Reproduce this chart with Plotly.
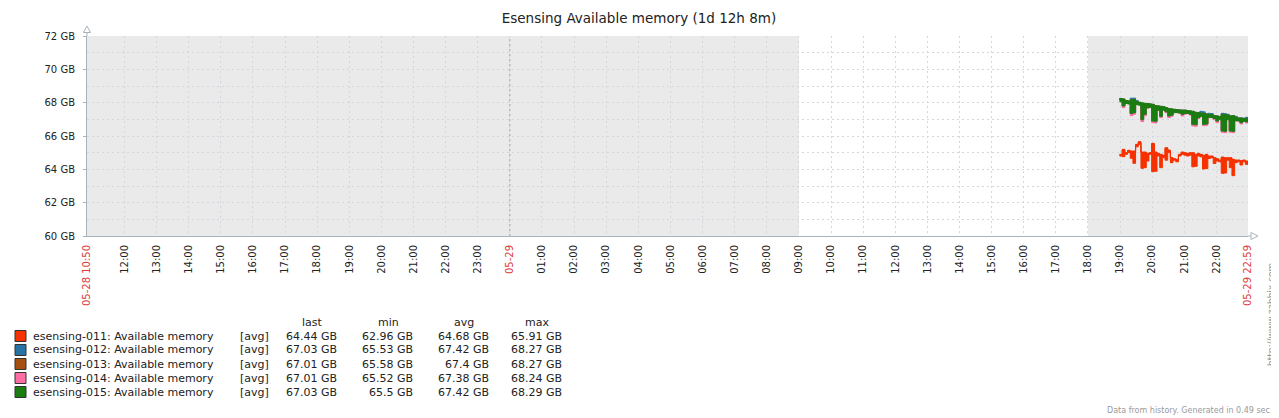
import plotly.graph_objects as go
import pandas as pd

# ---------------- data ----------------
t_start = "2017-05-28 10:50"
t_end = "2017-05-29 22:59"
times = pd.date_range("2017-05-29 18:59", "2017-05-29 22:59", freq="5min")

s011_avg = [64.86, 65.16, 64.96, 65.10, 65.06, 65.06, 65.46, 65.62, 65.00, 65.00, 64.92, 64.96, 65.52, 65.00, 64.92, 64.86, 64.80, 65.26, 65.12, 64.66, 64.60, 64.56, 64.86, 65.00, 64.96, 64.92, 64.96, 64.96, 64.86, 64.92, 64.86, 64.80, 64.86, 64.76, 64.76, 64.66, 64.60, 64.52, 64.70, 64.66, 64.66, 64.66, 64.56, 64.52, 64.52, 64.48, 64.52, 64.46, 64.44]
s011_max = [64.90, 65.20, 65.00, 65.14, 65.10, 65.10, 65.50, 65.66, 65.04, 65.04, 64.96, 65.00, 65.56, 65.04, 64.96, 64.90, 64.84, 65.30, 65.16, 64.70, 64.64, 64.60, 64.90, 65.04, 65.00, 64.96, 65.00, 65.00, 64.90, 64.96, 64.90, 64.84, 64.90, 64.80, 64.80, 64.70, 64.64, 64.56, 64.74, 64.70, 64.70, 64.70, 64.60, 64.56, 64.56, 64.52, 64.56, 64.50, 64.48]
s011_min = [64.80, 64.76, 64.90, 65.00, 64.66, 64.36, 65.35, 65.50, 64.06, 64.10, 64.50, 64.90, 63.86, 63.88, 64.80, 64.10, 64.70, 64.55, 65.00, 64.40, 64.55, 64.45, 64.80, 64.90, 64.85, 64.80, 64.85, 64.15, 64.18, 64.80, 64.75, 64.02, 64.05, 64.65, 64.70, 64.35, 64.50, 64.45, 63.76, 63.78, 64.55, 64.10, 63.62, 64.40, 64.45, 64.26, 64.45, 64.30, 64.40]

s012_max = [68.25, 68.22, 68.12, 68.10, 68.27, 68.27, 68.12, 68.02, 67.98, 67.96, 67.95, 67.92, 67.90, 67.82, 67.80, 67.78, 67.76, 67.70, 67.65, 67.62, 67.60, 67.58, 67.56, 67.55, 67.55, 67.52, 67.50, 67.48, 67.42, 67.40, 67.48, 67.45, 67.32, 67.36, 67.35, 67.22, 67.20, 67.16, 67.36, 67.34, 67.30, 67.20, 67.22, 67.18, 67.08, 67.08, 67.06, 67.12, 67.03]
s012_min = [68.17, 67.82, 68.07, 68.04, 67.37, 67.42, 67.97, 67.92, 67.00, 67.32, 67.72, 67.77, 66.92, 66.90, 67.57, 67.20, 67.62, 67.47, 67.22, 67.27, 67.47, 67.52, 67.42, 67.32, 67.37, 67.47, 67.32, 66.72, 66.70, 67.12, 67.22, 66.72, 66.74, 67.17, 67.20, 67.07, 66.92, 67.07, 66.32, 66.30, 67.02, 66.32, 66.30, 66.97, 66.97, 66.82, 66.97, 66.87, 67.00]

s013_max = [68.24, 68.21, 68.11, 68.09, 68.17, 68.19, 68.07, 68.01, 67.97, 67.95, 67.94, 67.91, 67.89, 67.81, 67.79, 67.77, 67.75, 67.69, 67.64, 67.61, 67.59, 67.57, 67.55, 67.54, 67.54, 67.51, 67.49, 67.47, 67.41, 67.39, 67.37, 67.34, 67.31, 67.29, 67.27, 67.21, 67.19, 67.15, 67.29, 67.27, 67.24, 67.19, 67.21, 67.11, 67.07, 67.07, 67.05, 67.04, 67.01]
s013_min = [68.16, 67.81, 68.06, 68.03, 67.36, 67.41, 67.96, 67.91, 66.99, 67.31, 67.71, 67.76, 66.91, 66.89, 67.56, 67.19, 67.61, 67.46, 67.21, 67.26, 67.46, 67.51, 67.41, 67.31, 67.36, 67.46, 67.31, 66.71, 66.69, 67.11, 67.21, 66.71, 66.73, 67.16, 67.19, 67.06, 66.91, 67.06, 66.31, 66.29, 67.01, 66.31, 66.29, 66.96, 66.96, 66.81, 66.96, 66.86, 66.99]

s014_max = [68.22, 68.20, 68.10, 68.08, 68.14, 68.16, 68.06, 68.00, 67.96, 67.94, 67.92, 67.90, 67.88, 67.80, 67.78, 67.76, 67.74, 67.68, 67.63, 67.60, 67.58, 67.56, 67.54, 67.53, 67.53, 67.50, 67.48, 67.46, 67.40, 67.38, 67.36, 67.33, 67.30, 67.28, 67.26, 67.20, 67.18, 67.14, 67.27, 67.25, 67.23, 67.18, 67.20, 67.10, 67.06, 67.06, 67.04, 67.03, 67.01]
s014_min = [68.12, 67.70, 68.02, 68.00, 67.22, 67.30, 67.92, 67.88, 66.86, 67.22, 67.66, 67.70, 66.80, 66.78, 67.52, 67.10, 67.56, 67.40, 67.10, 67.18, 67.42, 67.46, 67.36, 67.20, 67.30, 67.42, 67.26, 66.60, 66.58, 67.05, 67.16, 66.62, 66.64, 67.10, 67.14, 66.98, 66.80, 67.00, 66.22, 66.20, 66.96, 66.22, 66.20, 66.90, 66.90, 66.72, 66.90, 66.78, 66.94]

s015_avg = [68.21, 68.10, 68.09, 68.07, 67.95, 67.98, 68.04, 67.98, 67.70, 67.85, 67.91, 67.88, 67.62, 67.65, 67.76, 67.60, 67.72, 67.65, 67.50, 67.52, 67.56, 67.54, 67.50, 67.48, 67.50, 67.49, 67.45, 67.20, 67.18, 67.35, 67.34, 67.10, 67.08, 67.26, 67.24, 67.15, 67.10, 67.12, 66.90, 66.92, 67.20, 66.85, 66.88, 67.08, 67.05, 66.98, 67.03, 66.98, 67.03]
s015_max = [68.25, 68.22, 68.12, 68.10, 68.18, 68.20, 68.08, 68.02, 67.98, 67.96, 67.95, 67.92, 67.90, 67.82, 67.80, 67.78, 67.76, 67.70, 67.65, 67.62, 67.60, 67.58, 67.56, 67.55, 67.55, 67.52, 67.50, 67.48, 67.42, 67.40, 67.38, 67.35, 67.32, 67.30, 67.28, 67.22, 67.20, 67.16, 67.30, 67.28, 67.25, 67.20, 67.22, 67.12, 67.08, 67.08, 67.06, 67.05, 67.03]
s015_min = [68.05, 67.80, 67.95, 67.92, 67.35, 67.40, 67.88, 67.85, 66.98, 67.30, 67.70, 67.72, 66.90, 66.88, 67.55, 67.18, 67.55, 67.45, 67.20, 67.25, 67.40, 67.40, 67.38, 67.30, 67.35, 67.35, 67.30, 66.70, 66.68, 67.10, 67.18, 66.70, 66.72, 67.12, 67.10, 67.05, 66.90, 67.00, 66.30, 66.28, 67.00, 66.30, 66.28, 66.92, 66.90, 66.80, 66.88, 66.85, 66.90]

legend_names = ["esensing-011: Available memory", "esensing-012: Available memory",
                "esensing-013: Available memory", "esensing-014: Available memory",
                "esensing-015: Available memory"]
legend_colors = ["#F63100", "#2774A4", "#A54F10", "#FC6EA3", "#1A7C11"]
legend_last = ["64.44 GB", "67.03 GB", "67.01 GB", "67.01 GB", "67.03 GB"]
legend_min = ["62.96 GB", "65.53 GB", "65.58 GB", "65.52 GB", "65.5 GB"]
legend_avg = ["64.68 GB", "67.42 GB", "67.4 GB", "67.38 GB", "67.42 GB"]
legend_max = ["65.91 GB", "68.27 GB", "68.27 GB", "68.24 GB", "68.29 GB"]

y_major = [60, 62, 64, 66, 68, 70, 72]
y_minor = [61, 63, 65, 67, 69, 71]
y_labels = ["60 GB", "62 GB", "64 GB", "66 GB", "68 GB", "70 GB", "72 GB"]

hours = list(pd.date_range("2017-05-28 12:00", "2017-05-29 22:00", freq="1h"))
RED = "#e03c3c"
x_tickvals = [pd.Timestamp(t_start)] + hours + [pd.Timestamp(t_end)]
x_ticktext = ['<span style="color:%s">05-28 10:50</span>' % RED]
for h in hours:
    if h.hour == 0:
        x_ticktext.append('<span style="color:%s">%s</span>' % (RED, h.strftime("%m-%d")))
    else:
        x_ticktext.append(h.strftime("%H:%M"))
x_ticktext.append('<span style="color:%s">05-29 22:59</span>' % RED)

# ---------------- layout geometry ----------------
# the page body has an 8px margin, so the figure is drawn 8px smaller and offset
OFF = 8
W, H = 1279 - OFF, 418 - OFF
PLOT_L, PLOT_R, PLOT_T, PLOT_B = 87, 1248, 36, 236   # plot area in window pixels
L, T = PLOT_L - OFF, PLOT_T - OFF
R, B = W - (PLOT_R - OFF), H - (PLOT_B - OFF)
PW, PH = PLOT_R - PLOT_L, PLOT_B - PLOT_T
FONT = "DejaVu Sans"
AXC = "#a9b3bb"
GRIDC = "#d2d8dd"
GDASH = "2px,3px"
TXT = "#222222"


def px(xp):
    return (xp - PLOT_L) / PW


def py(yp):
    return (PLOT_B - yp) / PH


fig = go.Figure()


def band(lo, hi, color):
    fig.add_trace(go.Scatter(x=times, y=lo, mode="lines", line=dict(width=1, color=color, shape="hv"),
                             showlegend=False, hoverinfo="skip"))
    fig.add_trace(go.Scatter(x=times, y=hi, mode="lines", line=dict(width=1, color=color, shape="hv"),
                             fill="tonexty", fillcolor=color, showlegend=False, hoverinfo="skip"))


def avgline(v, color):
    fig.add_trace(go.Scatter(x=times, y=v, mode="lines", line=dict(width=1, color=color, shape="hv"),
                             showlegend=False, hoverinfo="skip"))


band(s011_min, s011_max, legend_colors[0])
avgline(s011_avg, legend_colors[0])
band(s012_min, s012_max, legend_colors[1])
band(s013_min, s013_max, legend_colors[2])
band(s014_min, s014_max, legend_colors[3])
band(s015_min, s015_max, legend_colors[4])
avgline(s015_avg, legend_colors[4])

shapes = []
# non-working period shading
for a, b in [(t_start, "2017-05-29 09:00"), ("2017-05-29 18:00", t_end)]:
    shapes.append(dict(type="rect", xref="x", yref="paper", x0=a, x1=b, y0=0, y1=1,
                       fillcolor="#eaeaea", line=dict(width=0), layer="below"))
# midnight line
shapes.append(dict(type="line", xref="x", yref="paper", x0="2017-05-29 00:00", x1="2017-05-29 00:00",
                   y0=0, y1=1, line=dict(color="#97a8a0", width=1, dash=GDASH), layer="between"))
# axis extensions and arrows
shapes.append(dict(type="line", xref="paper", yref="paper", x0=0, x1=0, y0=1, y1=py(32),
                   line=dict(color=AXC, width=1)))
shapes.append(dict(type="path", xref="paper", yref="paper",
                   path="M %f,%f L %f,%f L %f,%f Z" % (px(83.5), py(32.5), px(87), py(26), px(90.5), py(32.5)),
                   line=dict(color=AXC, width=1), fillcolor="white"))
shapes.append(dict(type="line", xref="paper", yref="paper", x0=1, x1=px(1251), y0=0, y1=0,
                   line=dict(color=AXC, width=1)))
shapes.append(dict(type="path", xref="paper", yref="paper",
                   path="M %f,%f L %f,%f L %f,%f Z" % (px(1251), py(232.5), px(1258), py(236), px(1251), py(239.5)),
                   line=dict(color=AXC, width=1), fillcolor="white"))

annotations = []
# legend table
hdr_y = 322
row_y0 = 336
row_dy = 14
col_right = [339, 415, 491, 564]
headers = ["last", "min", "avg", "max"]
for cr, htxt in zip(col_right, headers):
    annotations.append(dict(text=htxt, xref="paper", yref="paper", x=px(cr - 27), y=py(hdr_y),
                            xanchor="center", yanchor="middle", showarrow=False,
                            font=dict(family=FONT, size=11, color=TXT)))
for i in range(len(legend_names)):
    yy = row_y0 + i * row_dy
    shapes.append(dict(type="rect", xref="paper", yref="paper", x0=px(15), x1=px(26),
                       y0=py(yy - 5.5), y1=py(yy + 5.5), fillcolor=legend_colors[i],
                       line=dict(color="#333333", width=1)))
    annotations.append(dict(text=legend_names[i], xref="paper", yref="paper", x=px(31), y=py(yy),
                            xanchor="left", yanchor="middle", showarrow=False,
                            font=dict(family=FONT, size=11, color=TXT)))
    annotations.append(dict(text="[avg]", xref="paper", yref="paper", x=px(238), y=py(yy),
                            xanchor="left", yanchor="middle", showarrow=False,
                            font=dict(family=FONT, size=11, color=TXT)))
    for cr, vals in zip(col_right, [legend_last, legend_min, legend_avg, legend_max]):
        annotations.append(dict(text=vals[i], xref="paper", yref="paper", x=px(cr), y=py(yy),
                                xanchor="right", yanchor="middle", showarrow=False,
                                font=dict(family=FONT, size=11, color=TXT)))

annotations.append(dict(text="http://www.zabbix.com", xref="paper", yref="paper", x=px(1271), y=py(315),
                        xanchor="center", yanchor="middle", textangle=-90, showarrow=False,
                        font=dict(family=FONT, size=9, color="#8f8f8f")))
annotations.append(dict(text="Data from history. Generated in 0.49 sec.", xref="paper", yref="paper",
                        x=px(1274), y=py(410), xanchor="right", yanchor="middle", showarrow=False,
                        font=dict(family=FONT, size=8, color="#9a9a9a")))

fig.update_layout(
    width=W, height=H, autosize=False,
    margin=dict(l=L, r=R, t=T, b=B, pad=0),
    paper_bgcolor="white", plot_bgcolor="white",
    title=dict(text="Esensing Available memory (1d 12h 8m)", x=(639 - OFF) / W, xref="container", xanchor="center",
               y=1 - (18 - OFF) / H, yref="container", yanchor="middle",
               font=dict(family=FONT, size=13.5, color=TXT)),
    showlegend=False, hovermode=False,
    shapes=shapes, annotations=annotations,
    xaxis=dict(type="date", range=[t_start, t_end], tickmode="array", tickvals=x_tickvals, ticktext=x_ticktext,
               tickangle=-90, tickfont=dict(family=FONT, size=10, color=TXT),
               showgrid=True, gridcolor=GRIDC, griddash=GDASH, gridwidth=1,
               showline=True, linecolor=AXC, linewidth=1, ticks="", zeroline=False,
               ticklabelstandoff=4, fixedrange=True),
    yaxis=dict(range=[60, 72], tickmode="array", tickvals=y_major, ticktext=y_labels,
               tickfont=dict(family=FONT, size=10, color=TXT),
               showgrid=True, gridcolor=GRIDC, griddash=GDASH, gridwidth=1,
               minor=dict(tickmode="array", tickvals=y_minor, showgrid=True, gridcolor=GRIDC, griddash=GDASH, ticks=""),
               showline=True, linecolor=AXC, linewidth=1, ticks="outside", ticklen=3, tickcolor=AXC,
               zeroline=False, ticklabelstandoff=6, fixedrange=True),
)

fig.write_html("out.html", config={"displayModeBar": False, "staticPlot": True})
